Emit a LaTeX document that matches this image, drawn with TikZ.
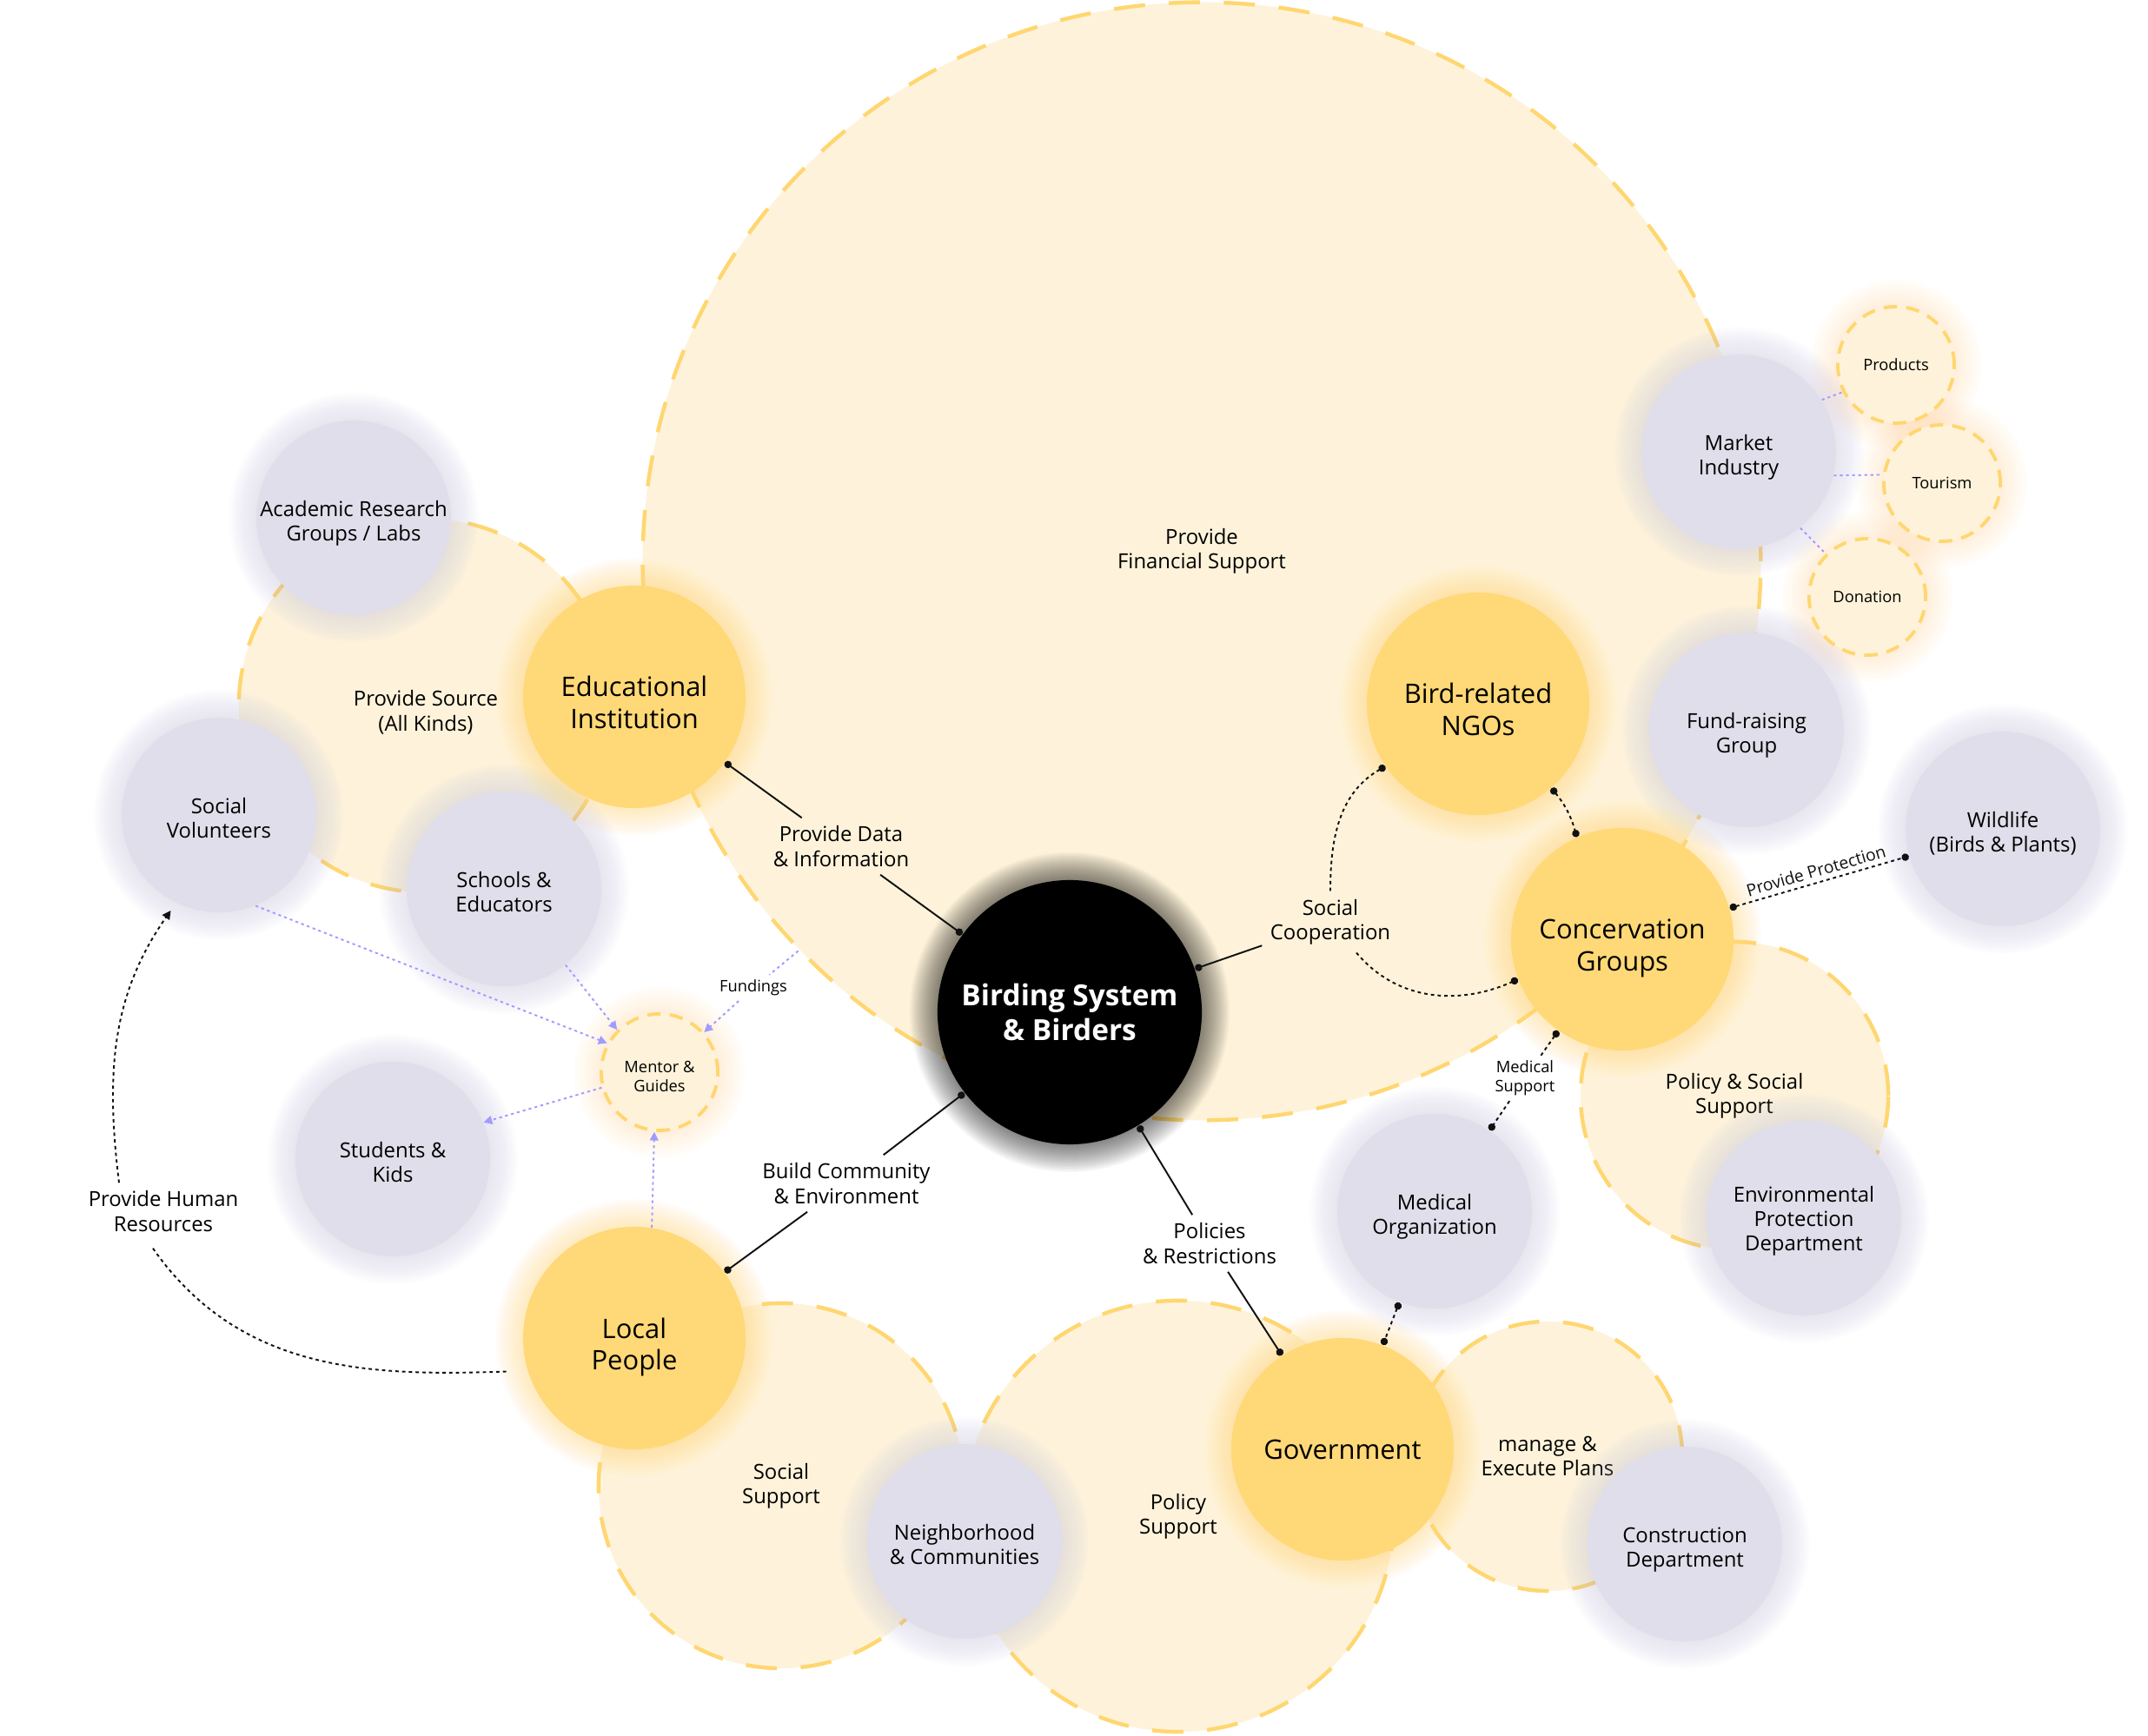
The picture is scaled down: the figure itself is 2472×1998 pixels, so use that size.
\documentclass[tikz,border=0pt]{standalone}
\usepackage{fontspec}
\setmainfont{Open Sans}
\usetikzlibrary{arrows.meta,calc}
\definecolor{cream}{RGB}{254,243,218}
\definecolor{dashgold}{RGB}{255,214,112}
\definecolor{hubgold}{RGB}{255,217,119}
\definecolor{mist}{RGB}{224,222,234}
\definecolor{mistglow}{RGB}{190,186,228}
\definecolor{lilac}{RGB}{160,156,255}
\definecolor{ink}{RGB}{17,17,17}
\pgfdeclarelayer{fields}
\pgfdeclarelayer{halos}
\pgfsetlayers{fields,halos,main}
\newcommand{\halo}[4]{\foreach \k in {1,...,16}{\fill[#3,opacity=#4] (#1.center) circle ({#2+2*\k});}}
\tikzset{
  field/.style={circle,fill=cream,draw=dashgold,line width=1.25pt,dash pattern=on 10.2pt off 7.8pt,
    inner sep=0pt,font=\fontsize{6.8}{8}\selectfont,align=center},
  pod/.style={circle,fill=cream,draw=dashgold,line width=1.1pt,dash pattern=on 4.4pt off 3pt,
    minimum size=1.34cm,inner sep=0pt,font=\fontsize{5.2}{6.3}\selectfont,align=center},
  hub/.style={circle,fill=hubgold,minimum size=2.56cm,inner sep=0pt,
    text height=23pt,text depth=2pt,font=\fontsize{8.8}{10.5}\selectfont,align=center},
  actor/.style={circle,fill=mist,minimum size=2.24cm,inner sep=0pt,
    text height=16.6pt,text depth=1.5pt,font=\fontsize{6.8}{8}\selectfont,align=center},
  coreball/.style={circle,fill=black,text=white,minimum size=3.04cm,inner sep=0pt,
    font=\fontsize{9.5}{11.2}\selectfont\bfseries,align=center},
  tag/.style={inner sep=2.5pt,font=\fontsize{6.8}{8}\selectfont,align=center},
  smalltag/.style={inner sep=1.5pt,font=\fontsize{5.2}{6.3}\selectfont,align=center},
  solidlink/.style={ink,line width=.55pt},
  dotlink/.style={ink,line width=.55pt,dash pattern=on 1.1pt off 1.1pt},
  guide/.style={lilac,line width=.55pt,dash pattern=on .9pt off 1.1pt},
  pinboth/.style={{Circle[length=2.4pt]}-{Circle[length=2.4pt]}},
  pinstart/.style={{Circle[length=2.4pt]}-},
  pinend/.style={-{Circle[length=2.4pt]}},
  tipend/.style={-{Triangle[length=2.8pt,width=2.8pt]}}
}
\begin{document}
\begin{tikzpicture}[x=0.01cm,y=0.01cm]
\useasboundingbox (0,0) rectangle (2472,-1998);
\begin{pgfonlayer}{fields}
  \fill[white] (0,0) rectangle (2472,-1998);
  \node[field,minimum size=12.86cm,text height=6.4pt,text depth=1.6pt] (fin) at (1383,-646) {Provide\\Financial Support};
  \node[field,minimum size=4.30cm,text height=18.2pt,text depth=1.7pt] (src) at (490,-812) {Provide Source\\(All Kinds)};
  \node[field,minimum size=4.20cm] (social) at (899,-1710) {Social\\Support};
  \node[field,minimum size=4.96cm] (polsup) at (1356,-1745) {Policy\\Support};
  \node[field,minimum size=3.10cm] (plans) at (1781,-1676) {manage \&\\Execute Plans};
  \node[field,minimum size=3.54cm] (polsoc) at (1996,-1261) {Policy \& Social\\Support};
\end{pgfonlayer}

\node[actor] (acad) at (407,-596) {Academic Research\\Groups / Labs};
\node[hub] (edu) at (730,-802) {Educational\\Institution};
\node[actor] (vol) at (252,-938) {Social\\Volunteers};
\node[actor] (sch) at (580,-1023) {Schools \&\\Educators};
\node[pod,text height=13.9pt,text depth=1pt] (mentor) at (759,-1234) {Mentor \&\\Guides};
\node[actor] (stu) at (452,-1334) {Students \&\\Kids};
\node[hub] (local) at (730,-1540) {Local\\People};
\node[actor] (nbh) at (1110,-1774) {Neighborhood\\\& Communities};
\node[hub,text height=6.7pt,text depth=0pt] (gov) at (1545,-1668) {Government};
\node[actor] (build) at (1939,-1777) {Construction\\Department};
\node[actor] (med) at (1651,-1394) {Medical\\Organization};
\node[actor,text height=23pt,text depth=1.6pt] (env) at (2076,-1402) {Environmental\\Protection\\Department};
\node[hub] (cons) at (1867,-1081) {Concervation\\Groups};
\node[actor] (wild) at (2305,-954) {Wildlife\\(Birds \& Plants)};
\node[hub] (ngo) at (1701,-810) {Bird-related\\NGOs};
\node[actor] (raise) at (2010,-840) {Fund-raising\\Group};
\node[actor] (mkt) at (2001,-520) {Market\\Industry};
\node[pod] (prod) at (2182,-420) {Products};
\node[pod] (tour) at (2235,-556) {Tourism};
\node[pod] (don) at (2149,-687) {Donation};
\node[coreball] (core) at (1231,-1165) {Birding System\\\& Birders};

\begin{pgfonlayer}{halos}
  \foreach \n in {edu,local,gov,cons,ngo} {\halo{\n}{128}{hubgold}{.03}}
  \foreach \n in {acad,vol,sch,stu,nbh,build,med,env,wild,raise,mkt} {\halo{\n}{112}{mistglow}{.018}}
  \foreach \n in {mentor,prod,tour,don} {\halo{\n}{67}{hubgold}{.015}}
  \halo{core}{152}{black}{.035}
\end{pgfonlayer}

\node[tag] (datatag) at (968,-974) {Provide Data\\\& Information};
\node[tag] (commtag) at (974,-1362) {Build Community\\\& Environment};
\node[tag] (policytag) at (1392,-1431) {Policies\\\& Restrictions};
\node[tag] (cooptag) at (1531,-1061) {Social\\Cooperation};
\node[smalltag] (medtag) at (1755,-1241) {Medical\\Support};
\node[smalltag] (fundtag) at (867,-1137) {Fundings};
\node[tag] (hrtag) at (188,-1394) {Provide Human\\Resources};

\draw[solidlink,pinstart] (edu) -- (datatag);
\draw[solidlink,pinend] (datatag) -- (core);
\draw[solidlink,pinstart] (core) -- (commtag);
\draw[solidlink,pinend] (commtag) -- (local);
\draw[solidlink,pinstart] (core) -- (policytag);
\draw[solidlink,pinend] (policytag) -- (gov);
\draw[solidlink,pinstart] (core) -- (cooptag);
\draw[dotlink,pinend] (cooptag.north) to[out=90,in=210] (ngo.214);
\draw[dotlink,pinend] ($(cooptag.south)+(30,0)$) to[out=-50,in=204] (cons.201);
\draw[dotlink,pinboth] (ngo.-49) to[bend left=12] (cons.114);
\draw[dotlink,pinboth] (cons) -- node[smalltag,font=\fontsize{5.5}{6.6}\selectfont,sloped,above=0pt] {Provide Protection} (wild);
\draw[dotlink,pinstart] (cons) -- (medtag);
\draw[dotlink,pinend] (medtag) -- (med);
\draw[dotlink,pinboth] (med) -- (gov);
\draw[dotlink,tipend,shorten >=3pt] ($(hrtag.north)+(-51,0)$) to[out=97,in=235] (vol.244);
\draw[dotlink,shorten >=6pt] ($(hrtag.south)+(-12,-10)$) to[out=-55,in=182] (local.197);

\draw[guide,tipend] (vol.-68) -- (mentor.151);
\draw[guide,tipend] (sch.-51) -- (mentor.135);
\draw[guide,tipend] (mentor.195) -- (stu.22);
\draw[guide,tipend] (local.81) -- (mentor.265);
\draw[guide] (fin.224) -- (fundtag);
\draw[guide,tipend] (fundtag) -- (mentor);
\draw[guide] (mkt.32) -- (prod.207);
\draw[guide] (mkt.-14) -- (tour.172);
\draw[guide] (mkt.-51) -- (don.134);
\end{tikzpicture}
\end{document}
